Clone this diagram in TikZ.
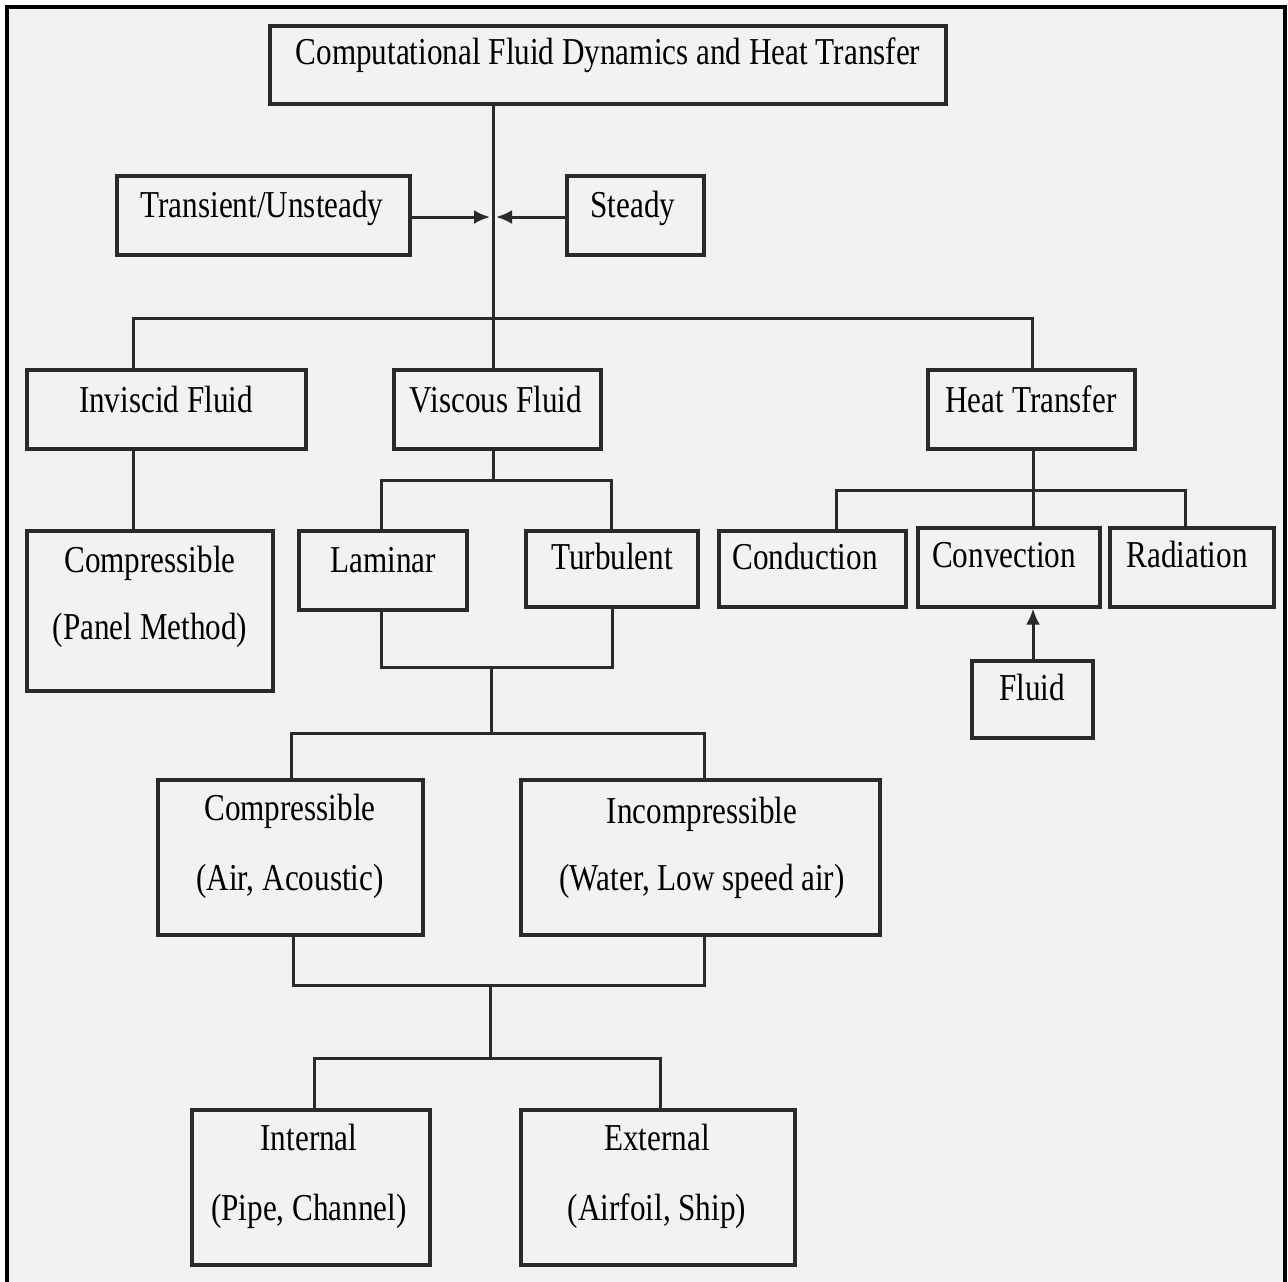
\documentclass[tikz,border=0pt]{standalone}
\usepackage{fontspec}
\setmainfont{Liberation Serif}[FakeStretch=0.82]
\usetikzlibrary{fit,arrows.meta}
\definecolor{linec}{HTML}{2A2A2A}
\definecolor{bgc}{HTML}{F2F2F2}
\begin{document}
\begin{tikzpicture}[x=0.5pt,y=-0.5pt,
  box/.style={draw=linec, line width=1.6pt, inner sep=0pt},
  txt/.style={font=\fontsize{19}{22}\selectfont, inner sep=0pt, anchor=base, text=black},
  conn/.style={draw=linec, line width=1.5pt},
  arr/.style={conn, -{Latex[length=8pt,width=7pt]}}]
\useasboundingbox (0,0) rectangle (1288,1281);
\fill[white] (0,0) rectangle (1288,1281);
\fill[bgc] (7,7) rectangle (1285,1290);
\draw[black, line width=1.8pt] (7,1290) -- (7,7) -- (1285,7) -- (1285,1290);

% corner coordinates
\coordinate (a1) at (270,26);   \coordinate (a2) at (946,104);
\coordinate (b1) at (117,176);  \coordinate (b2) at (410,255);
\coordinate (c1) at (567,176);  \coordinate (c2) at (704,255);
\coordinate (d1) at (27,370);   \coordinate (d2) at (306,449);
\coordinate (e1) at (394,370);  \coordinate (e2) at (601,449);
\coordinate (f1) at (928,370);  \coordinate (f2) at (1135,449);
\coordinate (g1) at (27,531);   \coordinate (g2) at (273,691);
\coordinate (h1) at (299,531);  \coordinate (h2) at (467,610);
\coordinate (i1) at (526,531);  \coordinate (i2) at (698,607);
\coordinate (j1) at (719,531);  \coordinate (j2) at (906,607);
\coordinate (k1) at (918,528);  \coordinate (k2) at (1100,607);
\coordinate (l1) at (1110,528); \coordinate (l2) at (1274,607);
\coordinate (m1) at (972,661);  \coordinate (m2) at (1093,738);
\coordinate (n1) at (158,780);  \coordinate (n2) at (423,935);
\coordinate (o1) at (521,780);  \coordinate (o2) at (880,935);
\coordinate (p1) at (192,1110); \coordinate (p2) at (430,1265);
\coordinate (q1) at (521,1110); \coordinate (q2) at (795,1265);

% boxes
\node[box, fit=(a1)(a2)] (cfd) {};
\node[box, fit=(b1)(b2)] (trans) {};
\node[box, fit=(c1)(c2)] (steady) {};
\node[box, fit=(d1)(d2)] (invis) {};
\node[box, fit=(e1)(e2)] (visc) {};
\node[box, fit=(f1)(f2)] (heat) {};
\node[box, fit=(g1)(g2)] (compA) {};
\node[box, fit=(h1)(h2)] (lam) {};
\node[box, fit=(i1)(i2)] (turb) {};
\node[box, fit=(j1)(j2)] (cond) {};
\node[box, fit=(k1)(k2)] (conv) {};
\node[box, fit=(l1)(l2)] (rad) {};
\node[box, fit=(m1)(m2)] (fluid) {};
\node[box, fit=(n1)(n2)] (compB) {};
\node[box, fit=(o1)(o2)] (incomp) {};
\node[box, fit=(p1)(p2)] (intern) {};
\node[box, fit=(q1)(q2)] (extern) {};

% texts
\node[txt] (t-cfd) at (608,64) {Computational Fluid Dynamics and Heat Transfer};
\node[txt] (t-trans) at (262,217) {Transient/Unsteady};
\node[txt] (t-steady) at (633,217) {Steady};
\node[txt] (t-invis) at (166,412) {Inviscid Fluid};
\node[txt] (t-visc) at (496,412) {Viscous Fluid};
\node[txt] (t-heat) at (1031,412) {Heat Transfer};
\node[txt] (t-compA) at (150,572) {Compressible};
\node[txt] (t-panel) at (150,639) {(Panel Method)};
\node[txt] (t-lam) at (383,572) {Laminar};
\node[txt] (t-turb) at (612,569) {Turbulent};
\node[txt] (t-cond) at (805,569) {Conduction};
\node[txt] (t-conv) at (1004,567) {Convection};
\node[txt] (t-rad) at (1187,567) {Radiation};
\node[txt] (t-fluid) at (1032,700) {Fluid};
\node[txt] (t-compB) at (290,820) {Compressible};
\node[txt] (t-air) at (290,890) {(Air, Acoustic)};
\node[txt] (t-incomp) at (702,823) {Incompressible};
\node[txt] (t-water) at (702,890) {(Water, Low speed air)};
\node[txt] (t-intern) at (309,1150) {Internal};
\node[txt] (t-pipe) at (309,1220) {(Pipe, Channel)};
\node[txt] (t-extern) at (657,1150) {External};
\node[txt] (t-airfoil) at (657,1220) {(Airfoil, Ship)};

% junction coordinates
\coordinate (v0) at (493,318);
\coordinate (ar) at (493,217);
\coordinate (jl) at (133,318);
\coordinate (jr) at (1032,318);
\coordinate (vj) at (493,480);
\coordinate (hj) at (1033,490);
\coordinate (lt) at (491,667);
\coordinate (cc) at (491,733);
\coordinate (ci) at (490,985);
\coordinate (ie) at (490,1058);

% connectors
\draw[conn] (cfd.south -| v0) -- (visc.north -| v0);
\draw[arr] (trans.east |- ar) -- ([xshift=-1.5pt]ar);
\draw[arr] (steady.west |- ar) -- ([xshift=1.5pt]ar);
\draw[conn] (invis.north -| jl) -- (jl) -- (jr) -- (heat.north -| jr);
\draw[conn] (invis.south -| jl) -- (compA.north -| jl);
\draw[conn] (visc.south -| vj) -- (vj);
\draw[conn] (lam.north -| 381,0) -- (381,480) -- (611,480) -- (turb.north -| 611,0);
\draw[conn] (heat.south -| hj) -- (conv.north -| hj);
\draw[conn] (cond.north -| 836,0) -- (836,490) -- (1185,490) -- (rad.north -| 1185,0);
\draw[arr] (fluid.north -| 1033,0) -- (conv.south -| 1033,0);
\draw[conn] (lam.south -| 381,0) -- (381,667) -- (612,667) -- (turb.south -| 612,0);
\draw[conn] (lt) -- (cc);
\draw[conn] (compB.north -| 291,0) -- (291,733) -- (704,733) -- (incomp.north -| 704,0);
\draw[conn] (compB.south -| 293,0) -- (293,985) -- (704,985) -- (incomp.south -| 704,0);
\draw[conn] (ci) -- (ie);
\draw[conn] (intern.north -| 314,0) -- (314,1058) -- (660,1058) -- (extern.north -| 660,0);
\end{tikzpicture}
\end{document}
